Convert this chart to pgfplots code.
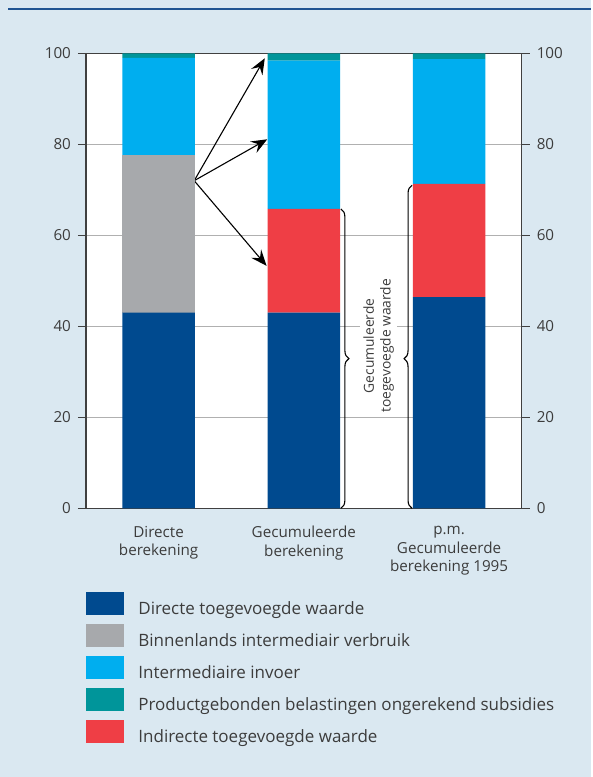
\documentclass[border=0pt]{standalone}
\usepackage{pgfplots}
\pgfplotsset{compat=1.18}
\usepackage{fontspec}
\setmainfont{Open Sans}
\usetikzlibrary{arrows.meta,decorations.pathreplacing}

\definecolor{bgblue}{RGB}{218,232,241}
\definecolor{topblue}{RGB}{32,84,146}
\definecolor{dblue}{RGB}{0,74,143}
\definecolor{greybar}{RGB}{167,169,172}
\definecolor{lblue}{RGB}{0,174,239}
\definecolor{teal}{RGB}{0,149,154}
\definecolor{redbar}{RGB}{239,62,69}
\definecolor{textgray}{RGB}{60,60,60}
\definecolor{axisgray}{RGB}{64,64,64}
\definecolor{gridgray}{RGB}{176,176,176}

\pgfplotsset{
  frame/.style={
    at={(43pt,134.35pt)}, anchor=south west,
    scale only axis, width=217.85pt, height=227.5pt,
    xmin=-0.5, xmax=2.5, ymin=0, ymax=100,
    ytick={0,20,...,100},
    tick align=outside, major tick length=4pt,
    axis line style={draw=axisgray, line width=0.6pt},
    every tick/.style={draw=axisgray, line width=0.6pt},
    /pgf/number format/assume math mode=true,
    yticklabel style={font=\fontsize{7.6}{9}\selectfont, text=textgray},
  }
}

\begin{document}
\begin{tikzpicture}[x=1pt,y=1pt]
\fill[bgblue] (0,0) rectangle (295.5,388.5);
\draw[topblue, line width=1.2pt] (4,384) -- (295.5,384);

\begin{axis}[frame,
  ybar stacked, bar width=0.5,
  axis background/.style={fill=white},
  ytick pos=left,
  ymajorgrids, grid style={draw=gridgray, line width=0.6pt},
  xtick={0,1,2},
  xticklabels={{Directe\\berekening},{Gecumuleerde\\berekening},{p.m.\\Gecumuleerde\\berekening 1995}},
  x tick style={draw=none},
  xticklabel style={align=center, font=\fontsize{7.6}{9.2}\selectfont, text=textgray, yshift=-1.5pt},
  legend image code/.code={\fill[#1, draw=none] (0pt,-2.5pt) rectangle (19pt,9pt);},
  legend cell align=left,
  legend style={at={(0,0)}, anchor=north west, yshift=-41.5pt,
    draw=none, fill=none, inner sep=0pt, row sep=3pt,
    nodes={inner sep=0pt},
    font=\fontsize{8.5}{9}\selectfont, text=textgray,
    /tikz/every odd column/.append style={column sep=7pt}},
]
% Directe toegevoegde waarde
\addplot[fill=dblue, draw=none, forget plot] coordinates {(0,43.0) (1,43.0) (2,46.4)};
% Binnenlands intermediair verbruik
\addplot[fill=greybar, draw=none, forget plot] coordinates {(0,34.6) (1,0) (2,0)};
% Indirecte toegevoegde waarde
\addplot[fill=redbar, draw=none, forget plot] coordinates {(0,0) (1,22.8) (2,24.9)};
% Intermediaire invoer
\addplot[fill=lblue, draw=none, forget plot] coordinates {(0,21.4) (1,32.6) (2,27.4)};
% Productgebonden belastingen ongerekend subsidies
\addplot[fill=teal, draw=none, forget plot] coordinates {(0,1.0) (1,1.6) (2,1.3)};

\addlegendimage{fill=dblue}
\addlegendentry{Directe toegevoegde waarde}
\addlegendimage{fill=greybar}
\addlegendentry{Binnenlands intermediair verbruik}
\addlegendimage{fill=lblue}
\addlegendentry{Intermediaire invoer}
\addlegendimage{fill=teal}
\addlegendentry{Productgebonden belastingen ongerekend subsidies}
\addlegendimage{fill=redbar}
\addlegendentry{Indirecte toegevoegde waarde}

% witte scheidingslijnen
\draw[white, line width=0.6pt] (axis cs:-0.25,77.6) -- (axis cs:0.25,77.6);
\draw[white, line width=0.6pt] (axis cs:1.75,98.7) -- (axis cs:2.25,98.7);

% pijlen
\draw[line width=0.55pt, -{Stealth[length=8pt,width=6.5pt,inset=3pt]}]
  (axis cs:0.245,72) -- (axis cs:0.731,98.9);
\draw[line width=0.55pt, -{Stealth[length=8pt,width=6.5pt,inset=3pt]}]
  (axis cs:0.245,72) -- (axis cs:0.748,81.1);
\draw[line width=0.55pt, -{Stealth[length=8pt,width=6.5pt,inset=3pt]}]
  (axis cs:0.245,72) -- (axis cs:0.743,53.3);

% accolades
\draw[line width=0.55pt, decorate, decoration={brace, amplitude=4pt}]
  (axis cs:1.255,65.8) -- (axis cs:1.255,0);
\draw[line width=0.55pt, decorate, decoration={brace, amplitude=4pt, aspect=0.463}]
  (axis cs:1.745,0) -- (axis cs:1.745,71.0);

\node[fill=white, rotate=90, align=center, inner sep=1.5pt, text=textgray,
  font=\fontsize{6.9}{8.4}\selectfont]
  at (axis cs:1.515,35.7) {Gecumuleerde\\toegevoegde waarde};
\end{axis}

\begin{axis}[frame,
  axis y line*=right, hide x axis,
]
\addplot[draw=none] coordinates {(0,0)};
\end{axis}
\end{tikzpicture}
\end{document}
